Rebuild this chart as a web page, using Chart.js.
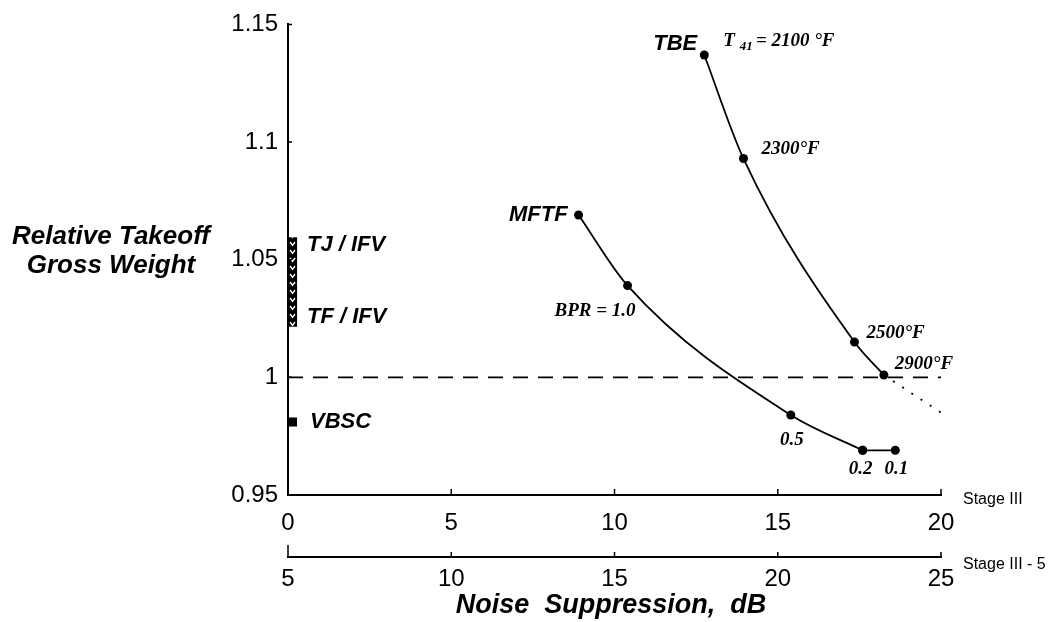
<!DOCTYPE html>
<html>
<head>
<meta charset="utf-8">
<script src="https://cdn.jsdelivr.net/npm/chart.js@4.4.1/dist/chart.umd.min.js"></script>
<style>
  html, body { margin: 0; padding: 0; background: #fff; }
</style>
</head>
<body>
<canvas id="noiseChart" width="1052" height="622"></canvas>
<script>
// Data
var mftfX = [8.9, 10.4, 15.4, 17.6, 18.6];
var mftfY = [1.069, 1.039, 0.984, 0.969, 0.969];
var mftfLabels = ['', 'BPR = 1.0', '0.5', '0.2', '0.1'];

var tbeX = [12.75, 13.95, 17.35, 18.25];
var tbeY = [1.137, 1.093, 1.015, 1.001];
var tbeLabels = ['T41 = 2100°F', '2300°F', '2500°F', '2900°F'];

var tbeExtX = [18.25, 20];
var tbeExtY = [1.001, 0.985];

var refX = [0, 20];
var refY = [1.0, 1.0];

var ifvX = 0.14;
var tjIfvY = [1.040, 1.0595];
var tfIfvY = [1.0215, 1.040];
var vbscX = [0.14];
var vbscY = [0.981];

var stage3Min = 0, stage3Max = 20;
var stage35Min = 5, stage35Max = 25;
var weightMin = 0.95, weightMax = 1.15;

function pts(xs, ys) {
  return xs.map(function (x, i) { return { x: x, y: ys[i] }; });
}

// hatch pattern for the IFV bar
function hatch() {
  var c = document.createElement('canvas');
  c.width = 9; c.height = 8;
  var g = c.getContext('2d');
  g.fillStyle = '#000';
  g.fillRect(0, 0, 9, 8);
  g.strokeStyle = '#fff';
  g.lineWidth = 1.3;
  g.beginPath();
  g.moveTo(2, 2); g.lineTo(4.5, 5.5); g.lineTo(7, 2);
  g.stroke();
  return document.getElementById('noiseChart').getContext('2d').createPattern(c, 'repeat');
}
var pattern = hatch();

var sans = '"Liberation Sans", Arial, sans-serif';
var serif = '"Liberation Serif", "Times New Roman", serif';

// text and small tick marks
var annot = {
  id: 'annot',
  afterDraw: function (chart) {
    var ctx = chart.ctx;
    var sx = chart.scales.x, sx2 = chart.scales.x2, sy = chart.scales.y;
    ctx.save();
    ctx.strokeStyle = '#000';
    ctx.lineWidth = 1.5;
    ctx.beginPath();
    sx.ticks.forEach(function (t) {
      var p = sx.getPixelForValue(t.value);
      ctx.moveTo(p, sx.top); ctx.lineTo(p, sx.top - 6);
    });
    sx2.ticks.forEach(function (t, i) {
      var p = sx2.getPixelForValue(t.value);
      ctx.moveTo(p, sx2.top); ctx.lineTo(p, sx2.top - (i === 0 ? 12 : 5));
    });
    sy.ticks.forEach(function (t) {
      var p = sy.getPixelForValue(t.value);
      ctx.moveTo(sy.right, p); ctx.lineTo(sy.right + 4, p);
    });
    ctx.stroke();

    ctx.fillStyle = '#000';
    ctx.textBaseline = 'middle';

    // y title, horizontal on two lines
    ctx.font = 'bold italic 26px ' + sans;
    ctx.textAlign = 'center';
    ctx.fillText('Relative Takeoff', 111, 237);
    ctx.fillText('Gross Weight', 111, 266);

    // x title
    ctx.font = 'bold italic 27px ' + sans;
    ctx.fillText('Noise  Suppression,  dB', 611, 606);

    // stage labels
    ctx.font = '16px ' + sans;
    ctx.textAlign = 'left';
    ctx.fillText('Stage III', 963, sx.top + 5);
    ctx.fillText('Stage III - 5', 963, sx2.top + 8);

    var mf = chart.getDatasetMeta(1).data;
    var mfEnd = chart.getDatasetMeta(2).data;
    var tb = chart.getDatasetMeta(3).data;
    var tj = chart.getDatasetMeta(5).data;
    var tf = chart.getDatasetMeta(6).data;
    var vb = chart.getDatasetMeta(7).data;

    // series names
    ctx.font = 'bold italic 22px ' + sans;
    ctx.textAlign = 'right';
    ctx.fillText('MFTF', mf[0].x - 11, mf[0].y);
    ctx.fillText('TBE', tb[0].x - 7, tb[0].y - 11);
    ctx.textAlign = 'left';
    ctx.fillText('TJ / IFV', sy.right + 19, tj[1].y + 8);
    ctx.fillText('TF / IFV', sy.right + 19, tf[0].y - 10);
    ctx.fillText('VBSC', sy.right + 22, vb[0].y);

    // point labels
    ctx.font = 'bold italic 19px ' + serif;
    ctx.textAlign = 'right';
    ctx.fillText(mftfLabels[1], mf[1].x + 8, mf[1].y + 26);
    ctx.textAlign = 'center';
    ctx.fillText(mftfLabels[2], mf[2].x + 1, mf[2].y + 25);
    ctx.fillText(mftfLabels[3], mfEnd[0].x - 2, mfEnd[0].y + 19);
    ctx.fillText(mftfLabels[4], mfEnd[1].x + 1, mfEnd[1].y + 19);

    ctx.textAlign = 'left';
    // T41 with subscript
    var tx = tb[0].x + 19, ty = tb[0].y - 14;
    ctx.fillText('T', tx, ty);
    var w = ctx.measureText('T ').width;
    ctx.font = 'bold italic 13px ' + serif;
    ctx.fillText('41', tx + w, ty + 6);
    var w2 = ctx.measureText('41 ').width;
    ctx.font = 'bold italic 19px ' + serif;
    ctx.fillText('= 2100 °F', tx + w + w2, ty);
    ctx.fillText(tbeLabels[1], tb[1].x + 18, tb[1].y - 9);
    ctx.fillText(tbeLabels[2], tb[2].x + 12, tb[2].y - 9);
    ctx.fillText(tbeLabels[3], tb[3].x + 11, tb[3].y - 11);
    ctx.restore();
  }
};

var dot = { pointRadius: 4.5, pointBackgroundColor: '#000', pointBorderWidth: 0 };

var ctx = document.getElementById('noiseChart').getContext('2d');
var chart = new Chart(ctx, {
  type: 'scatter',
  data: {
    datasets: [
      { // reference line at 1.0
        data: pts(refX, refY), showLine: true, borderColor: '#000', borderWidth: 1.6,
        borderDash: [15, 10], pointRadius: 0
      },
      Object.assign({ // MFTF, curved part
        data: pts(mftfX.slice(0, 4), mftfY.slice(0, 4)), showLine: true,
        borderColor: '#000', borderWidth: 1.8, cubicInterpolationMode: 'monotone'
      }, dot),
      Object.assign({ // MFTF, straight end
        data: pts(mftfX.slice(3), mftfY.slice(3)), showLine: true,
        borderColor: '#000', borderWidth: 1.8
      }, dot),
      Object.assign({ // TBE
        data: pts(tbeX, tbeY), showLine: true, borderColor: '#000', borderWidth: 1.8,
        cubicInterpolationMode: 'monotone'
      }, dot),
      { // TBE extrapolation
        data: pts(tbeExtX, tbeExtY), showLine: true, borderColor: '#000', borderWidth: 1.8,
        borderDash: [2, 9], pointRadius: 0
      },
      { // TJ / IFV
        data: pts([ifvX, ifvX], tjIfvY), showLine: true, borderColor: pattern, borderWidth: 9,
        borderCapStyle: 'butt', pointRadius: 0
      },
      { // TF / IFV
        data: pts([ifvX, ifvX], tfIfvY), showLine: true, borderColor: pattern, borderWidth: 9,
        borderCapStyle: 'butt', pointRadius: 0
      },
      { // VBSC
        data: pts(vbscX, vbscY), pointStyle: 'rect', pointRadius: 6.3,
        pointBackgroundColor: '#000', pointBorderWidth: 0
      }
    ]
  },
  options: {
    responsive: false,
    animation: false,
    layout: { padding: { left: 228, right: 111, top: 22, bottom: 0 } },
    plugins: { legend: { display: false }, tooltip: { enabled: false } },
    scales: {
      x: {
        type: 'linear', position: 'bottom', min: stage3Min, max: stage3Max,
        grid: { display: false, drawTicks: false },
        border: { display: true, color: '#000', width: 2 },
        ticks: { stepSize: 5, padding: 14, color: '#000', font: { family: sans, size: 24 } },
        afterFit: function (s) { s.height = 62; }
      },
      x2: {
        type: 'linear', position: 'bottom', min: stage35Min, max: stage35Max,
        grid: { display: false, drawTicks: false },
        border: { display: true, color: '#000', width: 2 },
        ticks: { stepSize: 5, padding: 8, color: '#000', font: { family: sans, size: 24 } },
        afterFit: function (s) { s.height = 65; }
      },
      y: {
        type: 'linear', min: weightMin, max: weightMax,
        grid: { display: false, drawTicks: false },
        border: { display: true, color: '#000', width: 2 },
        ticks: {
          stepSize: 0.05, padding: 10, color: '#000', font: { family: sans, size: 24 },
          callback: function (v) { return String(+v.toFixed(2)); }
        },
        afterFit: function (s) { s.width = 60; }
      }
    }
  },
  plugins: [annot]
});
</script>
</body>
</html>
